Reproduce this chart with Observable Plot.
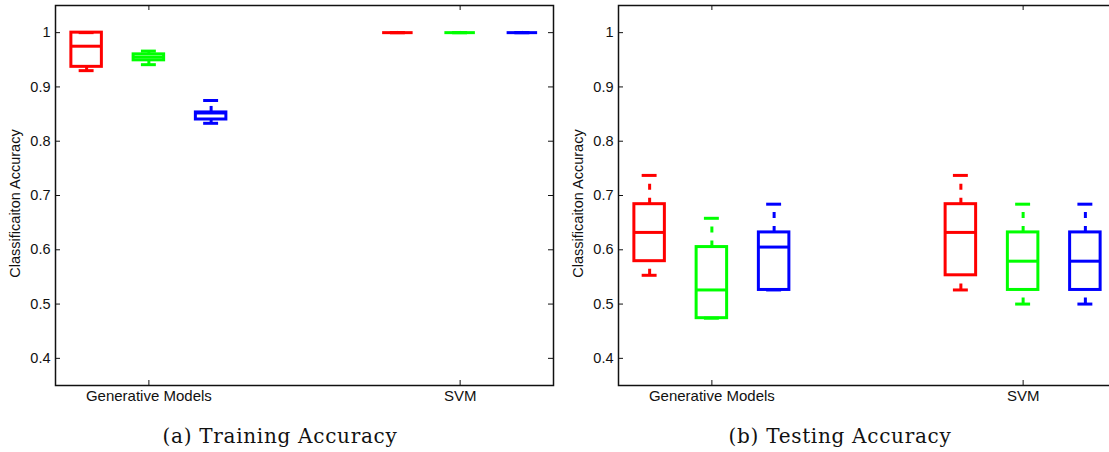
<!DOCTYPE html>
<html><head><meta charset="utf-8">
<script src="https://cdn.jsdelivr.net/npm/d3@7"></script>
<script src="https://cdn.jsdelivr.net/npm/@observablehq/plot@0.6"></script>
<style>
html,body{margin:0;padding:0;background:#fff;}
body{width:1109px;height:452px;position:relative;overflow:hidden;}
.panel{position:absolute;top:0;width:560px;height:452px;}
.cap{position:absolute;top:424px;left:0;width:560px;font-family:"DejaVu Serif";font-size:20px;line-height:24px;letter-spacing:0.7px;text-align:center;color:#111;}
</style></head><body>
<div id="a" class="panel" style="left:0"></div>
<div id="b" class="panel" style="left:560px"></div>
<script>
// ---- data ----
const groups = ["Generative Models", "SVM"];
const groupPos = [2, 7];
const boxPos = [1, 2, 3, 6, 7, 8];
const boxColors = ["#ff0000", "#00ff00", "#0000ff", "#ff0000", "#00ff00", "#0000ff"];
const yTicks = [0.4, 0.5, 0.6, 0.7, 0.8, 0.9, 1];
const yLabel = "Classificaiton Accuracy";
const captions = ["(a) Training Accuracy", "(b) Testing Accuracy"];

// Training accuracy box statistics
const trainLo  = [0.930, 0.941, 0.833, 1, 1, 1];
const trainQ1  = [0.937, 0.949, 0.840, 1, 1, 1];
const trainMed = [0.975, 0.955, 0.852, 1, 1, 1];
const trainQ3  = [1.000, 0.960, 0.853, 1, 1, 1];
const trainHi  = [1.000, 0.966, 0.875, 1, 1, 1];

// Testing accuracy box statistics
const testLo  = [0.553, 0.474, 0.526, 0.526, 0.500, 0.500];
const testQ1  = [0.579, 0.474, 0.526, 0.553, 0.526, 0.526];
const testMed = [0.632, 0.526, 0.605, 0.632, 0.579, 0.579];
const testQ3  = [0.684, 0.605, 0.632, 0.684, 0.632, 0.632];
const testHi  = [0.737, 0.658, 0.684, 0.737, 0.684, 0.684];

// ---- drawing ----
const BOX_HALF = 0.245, CAP_HALF = 0.12, LW = 3;
const W = 560, H = 412, MT = 5, MB = 27;

function rows(lo, q1, med, q3, hi) {
  return boxPos.map((p, i) => ({pos: p, color: boxColors[i], lo: lo[i], q1: q1[i], med: med[i], q3: q3[i], hi: hi[i]}));
}

function chart(data, ml, mr) {
  const fw = W - ml - mr, fh = H - MT - MB, tl = 5;
  return Plot.plot({
    width: W, height: H,
    marginLeft: ml, marginRight: mr, marginTop: MT, marginBottom: MB,
    style: {fontFamily: "'Liberation Sans', Arial, sans-serif", fontSize: "14.5px", color: "#111", background: "#fff", overflow: "visible"},
    x: {domain: [0.5, 8.5]},
    y: {domain: [0.35, 1.05]},
    color: {type: "identity"},
    marks: [
      // whiskers (dashed)
      Plot.ruleX(data, {x: "pos", y1: "q3", y2: "hi", stroke: "color", strokeWidth: LW, strokeDasharray: "6,8"}),
      Plot.ruleX(data, {x: "pos", y1: "lo", y2: "q1", stroke: "color", strokeWidth: LW, strokeDasharray: "6,8"}),
      // caps
      Plot.ruleY(data, {y: "hi", x1: d => d.pos - CAP_HALF, x2: d => d.pos + CAP_HALF, stroke: "color", strokeWidth: LW}),
      Plot.ruleY(data, {y: "lo", x1: d => d.pos - CAP_HALF, x2: d => d.pos + CAP_HALF, stroke: "color", strokeWidth: LW}),
      // boxes
      Plot.rect(data.filter(d => d.q3 > d.q1), {x1: d => d.pos - BOX_HALF, x2: d => d.pos + BOX_HALF, y1: "q1", y2: "q3", fill: "none", stroke: "color", strokeWidth: LW}),
      // medians
      Plot.ruleY(data, {y: "med", x1: d => d.pos - BOX_HALF, x2: d => d.pos + BOX_HALF, stroke: "color", strokeWidth: LW}),
      // inner ticks
      Plot.tickY(yTicks, {y: d => d, insetRight: fw - tl, stroke: "#111", strokeWidth: 1}),
      Plot.tickY(yTicks, {y: d => d, insetLeft: fw - tl, stroke: "#111", strokeWidth: 1}),
      Plot.tickX(groupPos, {x: d => d, insetTop: fh - tl, stroke: "#111", strokeWidth: 1}),
      Plot.tickX(groupPos, {x: d => d, insetBottom: fh - tl, stroke: "#111", strokeWidth: 1}),
      // axes
      Plot.axisY({ticks: yTicks, tickSize: 0, tickPadding: 5, tickFormat: d => String(d), label: null, fontSize: 14.5}),
      Plot.axisX({ticks: groupPos, tickSize: 0, tickPadding: 5, tickFormat: d => groups[groupPos.indexOf(d)], label: null, fontSize: 15}),
      Plot.text([yLabel], {text: d => d, frameAnchor: "left", textAnchor: "middle", rotate: -90, dx: -40, dy: 8, fontSize: 14.5, fill: "#111"}),
      Plot.frame({stroke: "#111", strokeWidth: 1.5})
    ]
  });
}

const panels = [
  {el: "a", data: rows(trainLo, trainQ1, trainMed, trainQ3, trainHi), ml: 55, mr: 7},
  {el: "b", data: rows(testLo, testQ1, testMed, testQ3, testHi), ml: 58, mr: 4}
];
panels.forEach((p, i) => {
  const host = document.getElementById(p.el);
  host.appendChild(chart(p.data, p.ml, p.mr));
  const c = document.createElement("div");
  c.className = "cap";
  c.textContent = captions[i];
  host.appendChild(c);
});
</script>
</body></html>
